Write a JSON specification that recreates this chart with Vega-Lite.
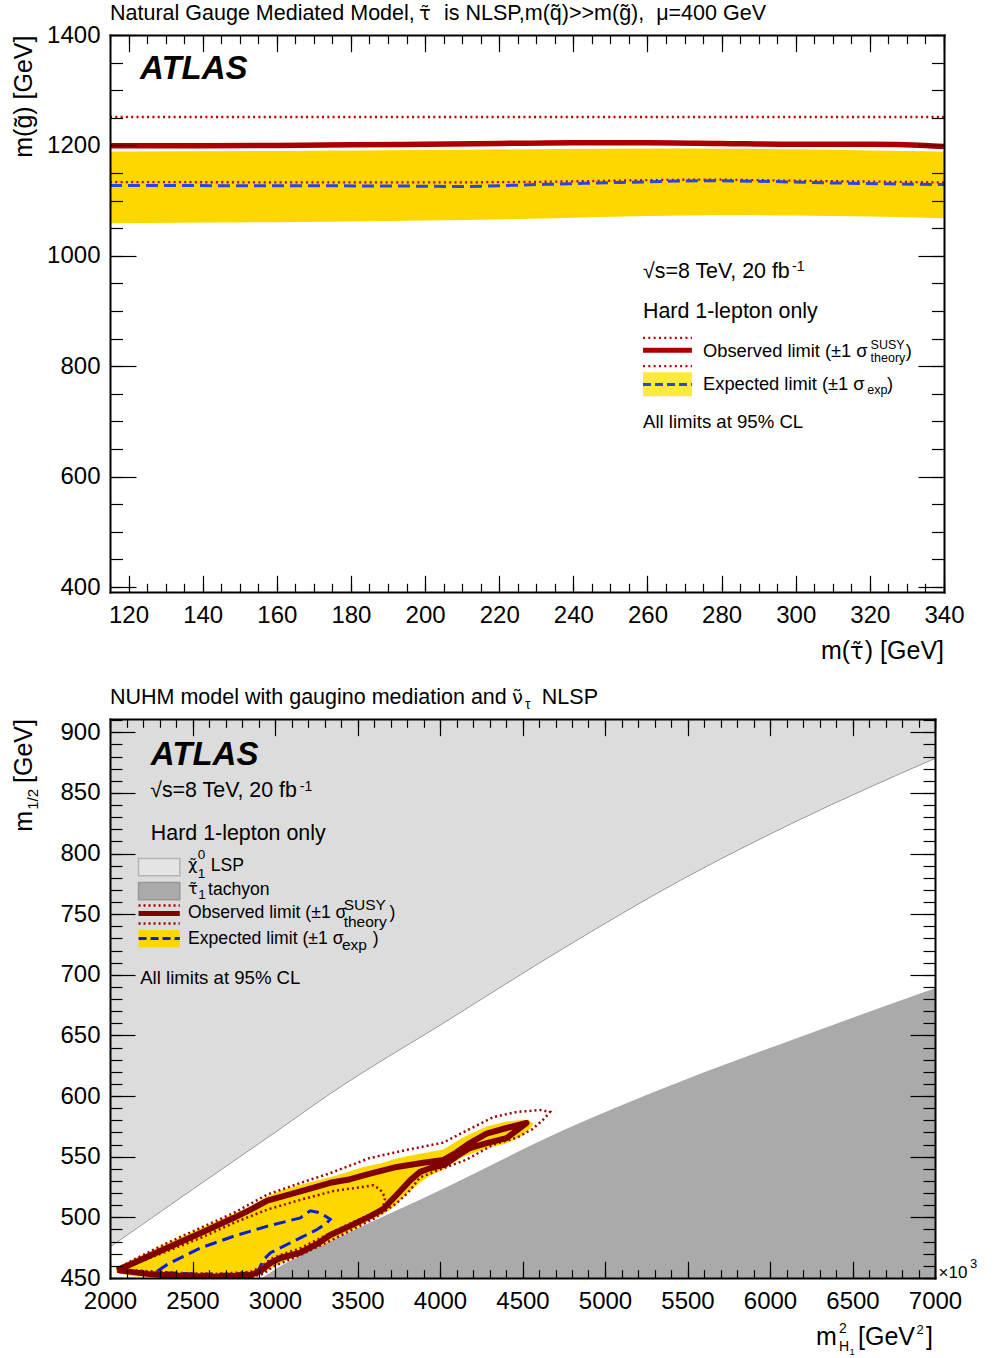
{
"$schema": "https://vega.github.io/schema/vega-lite/v6.json",
"padding": {"left": 11, "top": 2, "right": 0, "bottom": 0},
"spacing": 22,
"config": {
  "font": "Liberation Sans",
  "view": {"stroke": null},
  "text": {"color": "black", "font": "Liberation Sans"},
  "axis": {"labelFont": "Liberation Sans", "labelFontSize": 24, "labelColor": "black", "tickColor": "black", "tickWidth": 1.2, "domainColor": "black", "domainWidth": 2, "domainCap": "square", "grid": false, "titleFont": "Liberation Sans", "titleFontSize": 25, "titleFontWeight": "normal", "titleColor": "black", "labelFlush": false, "labelOverlap": false, "labelBound": false}
},
"datasets": {
  "topBand": [{"x":115,"y":1059,"y2":1189},{"x":160,"y":1061,"y2":1190},{"x":200,"y":1064,"y2":1191.5},{"x":235,"y":1068,"y2":1193.5},{"x":260,"y":1072,"y2":1194.5},{"x":280,"y":1074,"y2":1194},{"x":300,"y":1073,"y2":1193},{"x":320,"y":1071,"y2":1191},{"x":340,"y":1068,"y2":1189}],
  "topObs": [{"x":115,"y":1199.5},{"x":140,"y":1199.5},{"x":160,"y":1200},{"x":180,"y":1201},{"x":200,"y":1202},{"x":220,"y":1203.5},{"x":240,"y":1205},{"x":260,"y":1205},{"x":280,"y":1203.5},{"x":300,"y":1202},{"x":320,"y":1202},{"x":335,"y":1200},{"x":340,"y":1198}],
  "topUp": [{"x":115,"y":1251.5},{"x":230,"y":1251.5},{"x":340,"y":1251.5}],
  "topDn": [{"x":115,"y":1133.5},{"x":200,"y":1133},{"x":230,"y":1134},{"x":260,"y":1137},{"x":275,"y":1138},{"x":300,"y":1136},{"x":340,"y":1133}],
  "topExp": [{"x":115,"y":1127.3},{"x":190,"y":1126.5},{"x":210,"y":1125.6},{"x":230,"y":1129},{"x":260,"y":1134},{"x":275,"y":1136},{"x":290,"y":1135},{"x":310,"y":1132},{"x":340,"y":1129}],
  "topLegDot": [{"x":258.8,"x2":272,"y":851.2},{"x":258.8,"x2":272,"y":800.1}],
  "topLegObs": [{"x":258.8,"x2":272,"y":828.8}],
  "topLegBox": [{"x":258.8,"x2":272,"y":745.6,"y2":789}],
  "topLegExp": [{"x":258.8,"x2":272,"y":766.7}],
  "topAtlas": [{"x":123.1,"y":1337.6,"t":"ATLAS"}],
  "topBig": [{"x":258.8,"y":970.3,"t":"√s=8 TeV, 20 fb"},{"x":258.8,"y":898.8,"t":"Hard 1-lepton only"}],
  "topLeg": [{"x":275,"y":825.5,"t":"Observed limit (±1 σ"},{"x":329.7,"y":825.5,"t":")"},{"x":275,"y":765.8,"t":"Expected limit (±1 σ"},{"x":324.6,"y":765.8,"t":")"}],
  "topAll": [{"x":258.8,"y":699.8,"t":"All limits at 95% CL"}],
  "topSup": [{"x":299.0,"y":979.3,"t":"-1"}],
  "topSmall": [{"x":320.2,"y":837.7,"t":"SUSY"},{"x":320.2,"y":814.7,"t":"theory"},{"x":319.3,"y":757.7,"t":"exp"}],
  "botLsp": [{"x":2000,"y":475.5},{"x":2500,"y":523},{"x":3000,"y":570},{"x":3335,"y":602},{"x":4042,"y":662},{"x":4750,"y":722},{"x":5458,"y":778},{"x":6165,"y":827},{"x":7000,"y":878.5}],
  "botTach": [{"x":2920,"y":450},{"x":3000,"y":457},{"x":3335,"y":480},{"x":4042,"y":525},{"x":4750,"y":572},{"x":5458,"y":612},{"x":6165,"y":648},{"x":7000,"y":689}],
  "botBand": [{"x":2035,"y":456,"y2":457},{"x":2056,"y":453.5,"y2":460},{"x":2150,"y":451.5,"y2":466},{"x":2350,"y":450.5,"y2":479},{"x":2550,"y":450.3,"y2":491},{"x":2750,"y":450.3,"y2":503},{"x":2850,"y":450.3,"y2":509},{"x":2950,"y":456,"y2":517},{"x":3050,"y":463.5,"y2":523},{"x":3154,"y":468.5,"y2":527},{"x":3355,"y":481.5,"y2":534},{"x":3537,"y":494.5,"y2":541.5},{"x":3637,"y":501.5,"y2":544.5},{"x":3688,"y":505.5,"y2":546.5},{"x":3738,"y":511,"y2":548.5},{"x":3799,"y":519.5,"y2":550.5},{"x":3879,"y":528.5,"y2":552.5},{"x":3939,"y":534.5,"y2":554},{"x":4020,"y":539.5,"y2":556},{"x":4141,"y":550,"y2":566},{"x":4282,"y":557,"y2":575},{"x":4403,"y":561,"y2":579},{"x":4503,"y":567.5,"y2":580.5},{"x":4534,"y":571.5,"y2":580.5},{"x":4565,"y":576.5,"y2":577.5}],
  "botObs": [{"i":1,"x":2045,"y":456.5},{"i":2,"x":2147,"y":462.6},{"i":3,"x":2348,"y":474.9},{"i":4,"x":2550,"y":487.2},{"i":5,"x":2751,"y":499.6},{"i":6,"x":2852,"y":506.4},{"i":7,"x":2953,"y":513.8},{"i":8,"x":3154,"y":521.5},{"i":9,"x":3335,"y":528.5},{"i":10,"x":3456,"y":531.5},{"i":11,"x":3577,"y":536},{"i":12,"x":3738,"y":541.6},{"i":13,"x":3899,"y":545},{"i":14,"x":4020,"y":547.3},{"i":15,"x":4101,"y":553.7},{"i":16,"x":4181,"y":561.3},{"i":17,"x":4282,"y":569},{"i":18,"x":4403,"y":573.7},{"i":19,"x":4524,"y":577.8},{"i":20,"x":4403,"y":565.4},{"i":21,"x":4282,"y":561.3},{"i":22,"x":4181,"y":557.2},{"i":23,"x":4101,"y":550.4},{"i":24,"x":4030,"y":543.5},{"i":25,"x":3939,"y":540.5},{"i":26,"x":3879,"y":537.5},{"i":27,"x":3819,"y":530.5},{"i":28,"x":3758,"y":521.5},{"i":29,"x":3698,"y":513},{"i":30,"x":3658,"y":507},{"i":31,"x":3577,"y":501},{"i":32,"x":3456,"y":493},{"i":33,"x":3335,"y":485.5},{"i":34,"x":3255,"y":478},{"i":35,"x":3154,"y":471},{"i":36,"x":3033,"y":466.5},{"i":37,"x":2973,"y":462.5},{"i":38,"x":2912,"y":455.7},{"i":39,"x":2852,"y":452.4},{"i":40,"x":2650,"y":451},{"i":41,"x":2449,"y":451.6},{"i":42,"x":2248,"y":453},{"i":43,"x":2045,"y":456.5}],
  "botUp": [{"i":1,"x":2040,"y":457.5},{"i":2,"x":2147,"y":465.3},{"i":3,"x":2348,"y":479},{"i":4,"x":2550,"y":491.4},{"i":5,"x":2751,"y":503.7},{"i":6,"x":2953,"y":518.8},{"i":7,"x":3154,"y":528.4},{"i":8,"x":3335,"y":536.5},{"i":9,"x":3571,"y":548.8},{"i":10,"x":3807,"y":555.9},{"i":11,"x":4019,"y":561.6},{"i":12,"x":4160,"y":571.5},{"i":13,"x":4325,"y":582.8},{"i":14,"x":4467,"y":587},{"i":15,"x":4608,"y":588.5},{"i":16,"x":4667,"y":587},{"i":17,"x":4632,"y":581.4},{"i":18,"x":4561,"y":572.9},{"i":19,"x":4467,"y":565.8},{"i":20,"x":4325,"y":560.2},{"i":21,"x":4161,"y":547.6},{"i":22,"x":4020,"y":540.5},{"i":23,"x":3879,"y":533},{"i":24,"x":3807,"y":520.5},{"i":25,"x":3736,"y":511.5},{"i":26,"x":3600,"y":499},{"i":27,"x":3355,"y":482},{"i":28,"x":3154,"y":469},{"i":29,"x":2990,"y":459.5},{"i":30,"x":2930,"y":453.5},{"i":31,"x":2850,"y":450.3},{"i":32,"x":2450,"y":450.3},{"i":33,"x":2056,"y":455},{"i":34,"x":2040,"y":457.5}],
  "botDn": [{"i":1,"x":2070,"y":457},{"i":2,"x":2147,"y":461.5},{"i":3,"x":2348,"y":472.2},{"i":4,"x":2550,"y":483.1},{"i":5,"x":2751,"y":495.5},{"i":6,"x":2953,"y":506.4},{"i":7,"x":3154,"y":514.5},{"i":8,"x":3355,"y":521.8},{"i":9,"x":3456,"y":523.7},{"i":10,"x":3597,"y":526.4},{"i":11,"x":3637,"y":523},{"i":12,"x":3668,"y":516.5},{"i":13,"x":3658,"y":509.5},{"i":14,"x":3620,"y":505},{"i":15,"x":3496,"y":497.5},{"i":16,"x":3355,"y":488.5},{"i":17,"x":3154,"y":474.5},{"i":18,"x":3033,"y":469},{"i":19,"x":2973,"y":465.5},{"i":20,"x":2912,"y":459},{"i":21,"x":2852,"y":455},{"i":22,"x":2650,"y":453.5},{"i":23,"x":2449,"y":454},{"i":24,"x":2248,"y":455.5},{"i":25,"x":2070,"y":457}],
  "botExp": [{"i":1,"x":2288,"y":455.7},{"i":2,"x":2348,"y":461.2},{"i":3,"x":2449,"y":468.1},{"i":4,"x":2550,"y":474.9},{"i":5,"x":2751,"y":484.5},{"i":6,"x":2953,"y":492.7},{"i":7,"x":3154,"y":499.6},{"i":8,"x":3214,"y":505.4},{"i":9,"x":3275,"y":503.7},{"i":10,"x":3335,"y":498.5},{"i":11,"x":3315,"y":495.5},{"i":12,"x":3255,"y":490},{"i":13,"x":3154,"y":483.1},{"i":14,"x":3053,"y":476.3},{"i":15,"x":2973,"y":470.8},{"i":16,"x":2932,"y":465.3},{"i":17,"x":2902,"y":457.1},{"i":18,"x":2872,"y":454.4},{"i":19,"x":2751,"y":453},{"i":20,"x":2550,"y":453},{"i":21,"x":2348,"y":454.4},{"i":22,"x":2288,"y":455.7}],
  "botLegLsp": [{"x":2173,"x2":2423,"y":781.7,"y2":796}],
  "botLegTach": [{"x":2173,"x2":2423,"y":761.9,"y2":776.2}],
  "botLegDot": [{"x":2173,"x2":2423,"y":757.2},{"x":2173,"x2":2423,"y":742.4}],
  "botLegObs": [{"x":2173,"x2":2423,"y":750.6}],
  "botLegBox": [{"x":2173,"x2":2423,"y":722.6,"y2":736.9}],
  "botLegExp": [{"x":2173,"x2":2423,"y":730}],
  "botAtlas": [{"x":2247.7,"y":881.5,"t":"ATLAS"}],
  "botBig": [{"x":2243.5,"y":851.9,"t":"√s=8 TeV, 20 fb"},{"x":2247.7,"y":816,"t":"Hard 1-lepton only"}],
  "botLeg": [{"x":2610,"y":790,"t":"LSP"},{"x":2594,"y":770.2,"t":"tachyon"},{"x":2473,"y":750.9,"t":"Observed limit (±1 σ"},{"x":3694,"y":750.9,"t":")"},{"x":2473,"y":729.7,"t":"Expected limit (±1 σ"},{"x":3593,"y":729.7,"t":")"}],
  "botGreek": [{"x":2473,"y":791,"t":"χ̃"},{"x":2473,"y":771,"t":"τ̃"}],
  "botAll": [{"x":2183,"y":697.8,"t":"All limits at 95% CL"}],
  "botSup": [{"x":3150,"y":854.6,"t":"-1"}],
  "botSmall": [{"x":2532,"y":798.5,"t":"0"},{"x":2532,"y":783.1,"t":"1"},{"x":2535,"y":765.5,"t":"1"}],
  "botSigma": [{"x":3416,"y":757.6,"t":"SUSY"},{"x":3416,"y":743.2,"t":"theory"},{"x":3406,"y":724.8,"t":"exp"}]
},
"vconcat": [
{
  "width": 834, "height": 557,
  "resolve": {"axis": {"x": "independent", "y": "independent"}},
  "encoding": {
    "x": {"field": "x", "type": "quantitative", "scale": {"domain": [115, 340], "nice": false, "zero": false}, "axis": null},
    "y": {"field": "y", "type": "quantitative", "scale": {"domain": [391, 1400], "nice": false, "zero": false}, "axis": null}
  },
  "layer": [
    {"data": {"name": "topBand"}, "mark": {"type": "area", "color": "#ffd700", "clip": true, "interpolate": "monotone"},
     "encoding": {
       "x": {"field": "x", "type": "quantitative", "scale": {"domain": [115, 340], "nice": false, "zero": false},
             "axis": {"orient": "bottom", "values": [120,140,160,180,200,220,240,260,280,300,320,340], "tickSize": -16.7, "labelPadding": 27.7, "domain": true, "format": "d", "title": null, "zindex": 1}},
       "y": {"field": "y", "type": "quantitative", "scale": {"domain": [391, 1400], "nice": false, "zero": false},
             "axis": {"orient": "left", "values": [400,600,800,1000,1200,1400], "tickSize": -26, "labelPadding": 36, "domain": true, "format": "d", "title": "m(g̃) [GeV]", "titleAnchor": "end", "titleAngle": 270, "titleAlign": "right", "titleX": -79, "titleY": 0, "titleBaseline": "alphabetic", "zindex": 1}},
       "y2": {"field": "y2"}
     }},
    {"data": {"name": "topUp"}, "mark": {"type": "line", "color": "#c00000", "strokeWidth": 2.3, "strokeDash": [2, 3.3], "clip": true},
     "encoding": {
       "x": {"field": "x", "type": "quantitative", "scale": {"domain": [115, 340], "nice": false, "zero": false},
             "axis": {"orient": "bottom", "values": [115,120,125,130,135,140,145,150,155,160,165,170,175,180,185,190,195,200,205,210,215,220,225,230,235,240,245,250,255,260,265,270,275,280,285,290,295,300,305,310,315,320,325,330,335,340], "tickSize": -8.7, "labels": false, "domain": false, "title": null, "zindex": 1}},
       "y": {"field": "y", "type": "quantitative", "scale": {"domain": [391, 1400], "nice": false, "zero": false},
             "axis": {"orient": "left", "values": [400,450,500,550,600,650,700,750,800,850,900,950,1000,1050,1100,1150,1200,1250,1300,1350,1400], "tickSize": -12.5, "labels": false, "domain": false, "title": null, "zindex": 1}}
     }},
    {"data": {"name": "topDn"}, "mark": {"type": "line", "color": "#c00000", "strokeWidth": 2.3, "strokeDash": [2, 3.3], "clip": true, "interpolate": "monotone"},
     "encoding": {
       "x": {"field": "x", "type": "quantitative", "scale": {"domain": [115, 340], "nice": false, "zero": false},
             "axis": {"orient": "top", "values": [120,140,160,180,200,220,240,260,280,300,320,340], "tickSize": -16.7, "labels": false, "domain": true, "title": null, "zindex": 1}},
       "y": {"field": "y", "type": "quantitative", "scale": {"domain": [391, 1400], "nice": false, "zero": false},
             "axis": {"orient": "right", "values": [400,600,800,1000,1200,1400], "tickSize": -26, "labels": false, "domain": true, "title": null, "zindex": 1}}
     }},
    {"data": {"name": "topExp"}, "mark": {"type": "line", "color": "#2d43e6", "strokeWidth": 3, "strokeDash": [12, 6], "clip": true, "interpolate": "monotone"},
     "encoding": {
       "x": {"field": "x", "type": "quantitative", "scale": {"domain": [115, 340], "nice": false, "zero": false},
             "axis": {"orient": "top", "values": [115,120,125,130,135,140,145,150,155,160,165,170,175,180,185,190,195,200,205,210,215,220,225,230,235,240,245,250,255,260,265,270,275,280,285,290,295,300,305,310,315,320,325,330,335,340], "tickSize": -8.7, "labels": false, "domain": false, "title": null, "zindex": 1}},
       "y": {"field": "y", "type": "quantitative", "scale": {"domain": [391, 1400], "nice": false, "zero": false},
             "axis": {"orient": "right", "values": [400,450,500,550,600,650,700,750,800,850,900,950,1000,1050,1100,1150,1200,1250,1300,1350,1400], "tickSize": -12.5, "labels": false, "domain": false, "title": null, "zindex": 1}}
     }},
    {"data": {"name": "topObs"}, "mark": {"type": "line", "color": "#aa0000", "strokeWidth": 5.5, "clip": true, "interpolate": "monotone"}},
    {"data": {"name": "topLegBox"}, "mark": {"type": "rect", "color": "#ffe93a"}, "encoding": {"x2": {"field": "x2"}, "y2": {"field": "y2"}}},
    {"data": {"name": "topLegDot"}, "mark": {"type": "rule", "color": "#c00000", "strokeWidth": 2.3, "strokeDash": [2, 3.3]}, "encoding": {"x2": {"field": "x2"}}},
    {"data": {"name": "topLegObs"}, "mark": {"type": "rule", "color": "#aa0000", "strokeWidth": 5}, "encoding": {"x2": {"field": "x2"}}},
    {"data": {"name": "topLegExp"}, "mark": {"type": "rule", "color": "#2d43e6", "strokeWidth": 3, "strokeDash": [8, 4]}, "encoding": {"x2": {"field": "x2"}}},
    {"data": {"name": "topAtlas"}, "mark": {"type": "text", "align": "left", "baseline": "middle", "fontSize": 33, "fontWeight": "bold", "fontStyle": "italic"}, "encoding": {"text": {"field": "t"}}},
    {"data": {"name": "topBig"}, "mark": {"type": "text", "align": "left", "baseline": "middle", "fontSize": 21.4}, "encoding": {"text": {"field": "t"}}},
    {"data": {"name": "topLeg"}, "mark": {"type": "text", "align": "left", "baseline": "middle", "fontSize": 18.3}, "encoding": {"text": {"field": "t"}}},
    {"data": {"name": "topAll"}, "mark": {"type": "text", "align": "left", "baseline": "middle", "fontSize": 18.6}, "encoding": {"text": {"field": "t"}}},
    {"data": {"name": "topSup"}, "mark": {"type": "text", "align": "left", "baseline": "middle", "fontSize": 14}, "encoding": {"text": {"field": "t"}}},
    {"data": {"name": "topSmall"}, "mark": {"type": "text", "align": "left", "baseline": "middle", "fontSize": 12.5}, "encoding": {"text": {"field": "t"}}},
    {"data": {"values": [{"x": 115, "y": 1400, "t": "Natural Gauge Mediated Model, "}]}, "mark": {"type": "text", "align": "left", "baseline": "alphabetic", "fontSize": 21.5, "dy": -15.5}, "encoding": {"text": {"field": "t"}}},
    {"data": {"values": [{"x": 115, "y": 1400, "t": "τ̃"}]}, "mark": {"type": "text", "align": "left", "baseline": "alphabetic", "font": "DejaVu Sans", "fontSize": 19.5, "dx": 309, "dy": -15.5}, "encoding": {"text": {"field": "t"}}},
    {"data": {"values": [{"x": 115, "y": 1400, "t": "is NLSP,m(q̃)>>m(g̃), \u00a0μ=400 GeV"}]}, "mark": {"type": "text", "align": "right", "baseline": "alphabetic", "fontSize": 21.5, "dx": 656, "dy": -15.5}, "encoding": {"text": {"field": "t"}}},
    {"data": {"values": [{"x": 340, "y": 391, "t": "m("}]}, "mark": {"type": "text", "align": "left", "baseline": "alphabetic", "fontSize": 25, "dx": -123, "dy": 67}, "encoding": {"text": {"field": "t"}}},
    {"data": {"values": [{"x": 340, "y": 391, "t": "τ̃"}]}, "mark": {"type": "text", "align": "left", "baseline": "alphabetic", "font": "DejaVu Sans", "fontSize": 22.5, "dx": -94, "dy": 67}, "encoding": {"text": {"field": "t"}}},
    {"data": {"values": [{"x": 340, "y": 391, "t": ") [GeV]"}]}, "mark": {"type": "text", "align": "right", "baseline": "alphabetic", "fontSize": 25, "dx": 0, "dy": 67}, "encoding": {"text": {"field": "t"}}}
  ]
},
{
  "width": 825, "height": 559,
  "resolve": {"axis": {"x": "independent", "y": "independent"}},
  "encoding": {
    "x": {"field": "x", "type": "quantitative", "scale": {"domain": [2000, 7000], "nice": false, "zero": false}, "axis": null},
    "y": {"field": "y", "type": "quantitative", "scale": {"domain": [450, 911], "nice": false, "zero": false}, "axis": null}
  },
  "layer": [
    {"data": {"name": "botLsp"}, "mark": {"type": "area", "color": "#dcdcdc", "clip": true, "interpolate": "monotone"},
     "encoding": {
       "x": {"field": "x", "type": "quantitative", "scale": {"domain": [2000, 7000], "nice": false, "zero": false},
             "axis": {"orient": "bottom", "values": [2000,2500,3000,3500,4000,4500,5000,5500,6000,6500,7000], "tickSize": -16.7, "labelPadding": 27.7, "domain": true, "format": "d", "title": null, "zindex": 1}},
       "y": {"field": "y", "type": "quantitative", "scale": {"domain": [450, 911], "nice": false, "zero": false},
             "axis": {"orient": "left", "values": [450,500,550,600,650,700,750,800,850,900], "tickSize": -25, "labelPadding": 35, "domain": true, "format": "d", "title": null, "zindex": 1}},
       "y2": {"datum": 911}
     }},
    {"data": {"name": "botLsp"}, "mark": {"type": "line", "color": "#999999", "strokeWidth": 1, "clip": true, "interpolate": "monotone"},
     "encoding": {
       "x": {"field": "x", "type": "quantitative", "scale": {"domain": [2000, 7000], "nice": false, "zero": false},
             "axis": {"orient": "bottom", "values": [2000,2100,2200,2300,2400,2500,2600,2700,2800,2900,3000,3100,3200,3300,3400,3500,3600,3700,3800,3900,4000,4100,4200,4300,4400,4500,4600,4700,4800,4900,5000,5100,5200,5300,5400,5500,5600,5700,5800,5900,6000,6100,6200,6300,6400,6500,6600,6700,6800,6900,7000], "tickSize": -8.3, "labels": false, "domain": false, "title": null, "zindex": 1}},
       "y": {"field": "y", "type": "quantitative", "scale": {"domain": [450, 911], "nice": false, "zero": false},
             "axis": {"orient": "left", "values": [450,460,470,480,490,500,510,520,530,540,550,560,570,580,590,600,610,620,630,640,650,660,670,680,690,700,710,720,730,740,750,760,770,780,790,800,810,820,830,840,850,860,870,880,890,900,910], "tickSize": -12, "labels": false, "domain": false, "title": null, "zindex": 1}}
     }},
    {"data": {"name": "botTach"}, "mark": {"type": "area", "color": "#aaaaaa", "clip": true, "interpolate": "monotone"},
     "encoding": {
       "x": {"field": "x", "type": "quantitative", "scale": {"domain": [2000, 7000], "nice": false, "zero": false},
             "axis": {"orient": "top", "values": [2000,2500,3000,3500,4000,4500,5000,5500,6000,6500,7000], "tickSize": -16.7, "labels": false, "domain": true, "title": null, "zindex": 1}},
       "y": {"field": "y", "type": "quantitative", "scale": {"domain": [450, 911], "nice": false, "zero": false},
             "axis": {"orient": "right", "values": [450,500,550,600,650,700,750,800,850,900], "tickSize": -25, "labels": false, "domain": true, "title": null, "zindex": 1}},
       "y2": {"datum": 450}
     }},
    {"data": {"name": "botBand"}, "mark": {"type": "area", "color": "#ffd700", "clip": true},
     "encoding": {
       "x": {"field": "x", "type": "quantitative", "scale": {"domain": [2000, 7000], "nice": false, "zero": false},
             "axis": {"orient": "top", "values": [2000,2100,2200,2300,2400,2500,2600,2700,2800,2900,3000,3100,3200,3300,3400,3500,3600,3700,3800,3900,4000,4100,4200,4300,4400,4500,4600,4700,4800,4900,5000,5100,5200,5300,5400,5500,5600,5700,5800,5900,6000,6100,6200,6300,6400,6500,6600,6700,6800,6900,7000], "tickSize": -8.3, "labels": false, "domain": false, "title": null, "zindex": 1}},
       "y": {"field": "y", "type": "quantitative", "scale": {"domain": [450, 911], "nice": false, "zero": false},
             "axis": {"orient": "right", "values": [450,460,470,480,490,500,510,520,530,540,550,560,570,580,590,600,610,620,630,640,650,660,670,680,690,700,710,720,730,740,750,760,770,780,790,800,810,820,830,840,850,860,870,880,890,900,910], "tickSize": -12, "labels": false, "domain": false, "title": null, "zindex": 1}},
       "y2": {"field": "y2"}
     }},
    {"data": {"name": "botExp"}, "mark": {"type": "line", "color": "#0a1fd0", "strokeWidth": 3, "strokeDash": [12, 6], "clip": true}, "encoding": {"order": {"field": "i", "type": "quantitative"}}},
    {"data": {"name": "botDn"}, "mark": {"type": "line", "color": "#a00000", "strokeWidth": 2.5, "strokeDash": [2, 3], "clip": true}, "encoding": {"order": {"field": "i", "type": "quantitative"}}},
    {"data": {"name": "botUp"}, "mark": {"type": "line", "color": "#a00000", "strokeWidth": 2.5, "strokeDash": [2, 3], "clip": true}, "encoding": {"order": {"field": "i", "type": "quantitative"}}},
    {"data": {"name": "botObs"}, "mark": {"type": "line", "color": "#800000", "strokeWidth": 6, "strokeJoin": "round", "clip": true}, "encoding": {"order": {"field": "i", "type": "quantitative"}}},
    {"data": {"name": "botLegLsp"}, "mark": {"type": "rect", "fill": "#e4e4e4", "stroke": "#b5b5b5", "strokeWidth": 1.5}, "encoding": {"x2": {"field": "x2"}, "y2": {"field": "y2"}}},
    {"data": {"name": "botLegTach"}, "mark": {"type": "rect", "fill": "#aaaaaa", "stroke": "#999999", "strokeWidth": 1.5}, "encoding": {"x2": {"field": "x2"}, "y2": {"field": "y2"}}},
    {"data": {"name": "botLegBox"}, "mark": {"type": "rect", "color": "#ffd700"}, "encoding": {"x2": {"field": "x2"}, "y2": {"field": "y2"}}},
    {"data": {"name": "botLegDot"}, "mark": {"type": "rule", "color": "#a00000", "strokeWidth": 2.5, "strokeDash": [2, 3]}, "encoding": {"x2": {"field": "x2"}}},
    {"data": {"name": "botLegObs"}, "mark": {"type": "rule", "color": "#800000", "strokeWidth": 5}, "encoding": {"x2": {"field": "x2"}}},
    {"data": {"name": "botLegExp"}, "mark": {"type": "rule", "color": "#0a1fd0", "strokeWidth": 3, "strokeDash": [8, 4]}, "encoding": {"x2": {"field": "x2"}}},
    {"data": {"name": "botAtlas"}, "mark": {"type": "text", "align": "left", "baseline": "middle", "fontSize": 33, "fontWeight": "bold", "fontStyle": "italic"}, "encoding": {"text": {"field": "t"}}},
    {"data": {"name": "botBig"}, "mark": {"type": "text", "align": "left", "baseline": "middle", "fontSize": 21.4}, "encoding": {"text": {"field": "t"}}},
    {"data": {"name": "botLeg"}, "mark": {"type": "text", "align": "left", "baseline": "middle", "fontSize": 17.6}, "encoding": {"text": {"field": "t"}}},
    {"data": {"name": "botGreek"}, "mark": {"type": "text", "align": "left", "baseline": "middle", "font": "DejaVu Sans", "fontSize": 16.5}, "encoding": {"text": {"field": "t"}}},
    {"data": {"name": "botAll"}, "mark": {"type": "text", "align": "left", "baseline": "middle", "fontSize": 18.6}, "encoding": {"text": {"field": "t"}}},
    {"data": {"name": "botSup"}, "mark": {"type": "text", "align": "left", "baseline": "middle", "fontSize": 14}, "encoding": {"text": {"field": "t"}}},
    {"data": {"name": "botSmall"}, "mark": {"type": "text", "align": "left", "baseline": "middle", "fontSize": 13.5}, "encoding": {"text": {"field": "t"}}},
    {"data": {"name": "botSigma"}, "mark": {"type": "text", "align": "left", "baseline": "middle", "fontSize": 15.5}, "encoding": {"text": {"field": "t"}}},
    {"data": {"values": [{"x": 2000, "y": 911, "t": "NUHM model with gaugino mediation and "}]}, "mark": {"type": "text", "align": "left", "baseline": "alphabetic", "fontSize": 21.5, "dy": -15.3}, "encoding": {"text": {"field": "t"}}},
    {"data": {"values": [{"x": 2000, "y": 911, "t": "ν̃"}]}, "mark": {"type": "text", "align": "left", "baseline": "alphabetic", "font": "DejaVu Sans", "fontSize": 19.5, "dx": 402, "dy": -15.3}, "encoding": {"text": {"field": "t"}}},
    {"data": {"values": [{"x": 2000, "y": 911, "t": "τ"}]}, "mark": {"type": "text", "align": "left", "baseline": "alphabetic", "fontSize": 14, "dx": 415, "dy": -10}, "encoding": {"text": {"field": "t"}}},
    {"data": {"values": [{"x": 2000, "y": 911, "t": "NLSP"}]}, "mark": {"type": "text", "align": "right", "baseline": "alphabetic", "fontSize": 21.5, "dx": 488, "dy": -15.3}, "encoding": {"text": {"field": "t"}}},
    {"data": {"values": [{"x": 2000, "y": 911, "t": "[GeV]"}]}, "mark": {"type": "text", "angle": 270, "align": "right", "baseline": "alphabetic", "fontSize": 25, "dx": 0, "dy": -78}, "encoding": {"text": {"field": "t"}}},
    {"data": {"values": [{"x": 2000, "y": 911, "t": "1/2"}]}, "mark": {"type": "text", "angle": 270, "align": "right", "baseline": "alphabetic", "fontSize": 15, "dx": -70, "dy": -72}, "encoding": {"text": {"field": "t"}}},
    {"data": {"values": [{"x": 2000, "y": 911, "t": "m"}]}, "mark": {"type": "text", "angle": 270, "align": "right", "baseline": "alphabetic", "fontSize": 25, "dx": -92, "dy": -78}, "encoding": {"text": {"field": "t"}}},
    {"data": {"values": [{"x": 7000, "y": 450, "t": "m"}]}, "mark": {"type": "text", "align": "left", "baseline": "alphabetic", "fontSize": 25, "dx": -119, "dy": 67}, "encoding": {"text": {"field": "t"}}},
    {"data": {"values": [{"x": 7000, "y": 450, "t": "2"}]}, "mark": {"type": "text", "align": "left", "baseline": "alphabetic", "fontSize": 14, "dx": -96, "dy": 55}, "encoding": {"text": {"field": "t"}}},
    {"data": {"values": [{"x": 7000, "y": 450, "t": "H"}]}, "mark": {"type": "text", "align": "left", "baseline": "alphabetic", "fontSize": 14, "dx": -96, "dy": 73}, "encoding": {"text": {"field": "t"}}},
    {"data": {"values": [{"x": 7000, "y": 450, "t": "1"}]}, "mark": {"type": "text", "align": "left", "baseline": "alphabetic", "fontSize": 9.5, "dx": -85.5, "dy": 77}, "encoding": {"text": {"field": "t"}}},
    {"data": {"values": [{"x": 7000, "y": 450, "t": "[GeV"}]}, "mark": {"type": "text", "align": "left", "baseline": "alphabetic", "fontSize": 25, "dx": -77, "dy": 67}, "encoding": {"text": {"field": "t"}}},
    {"data": {"values": [{"x": 7000, "y": 450, "t": "2"}]}, "mark": {"type": "text", "align": "left", "baseline": "alphabetic", "fontSize": 13, "dx": -18.5, "dy": 56}, "encoding": {"text": {"field": "t"}}},
    {"data": {"values": [{"x": 7000, "y": 450, "t": "]"}]}, "mark": {"type": "text", "align": "left", "baseline": "alphabetic", "fontSize": 25, "dx": -9, "dy": 67}, "encoding": {"text": {"field": "t"}}},
    {"data": {"values": [{"x": 7000, "y": 450, "t": "×10"}]}, "mark": {"type": "text", "align": "left", "baseline": "alphabetic", "fontSize": 17, "dx": 3.5, "dy": 0}, "encoding": {"text": {"field": "t"}}},
    {"data": {"values": [{"x": 7000, "y": 450, "t": "3"}]}, "mark": {"type": "text", "align": "left", "baseline": "alphabetic", "fontSize": 13, "dx": 35, "dy": -10}, "encoding": {"text": {"field": "t"}}}
  ]
}
]
}
